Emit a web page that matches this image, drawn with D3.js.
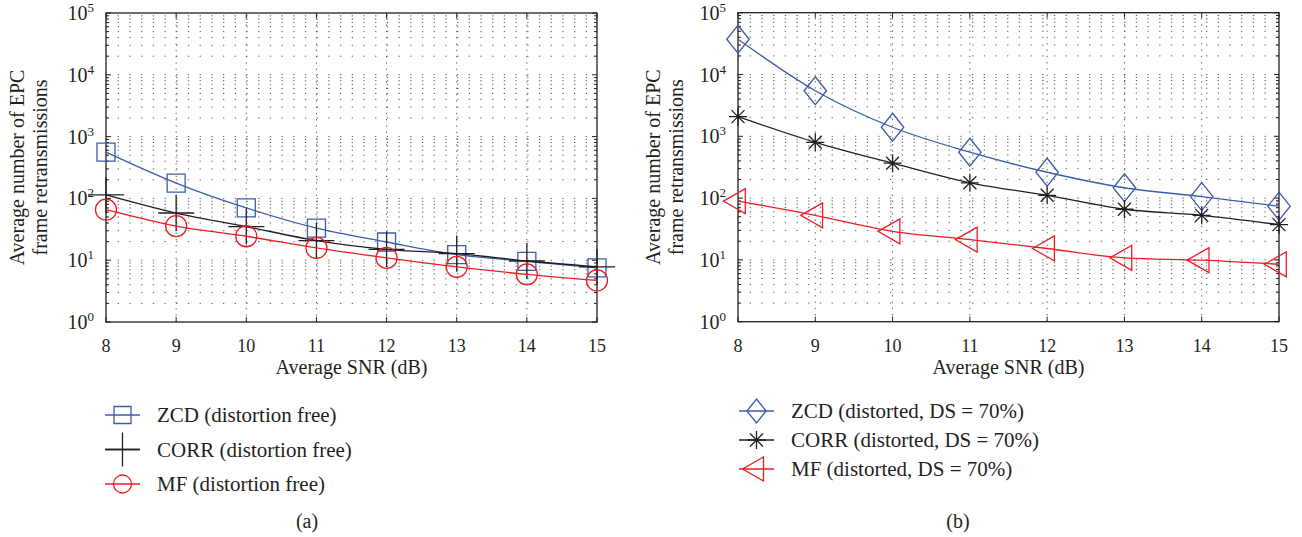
<!DOCTYPE html>
<html><head><meta charset="utf-8">
<script src="https://cdn.jsdelivr.net/npm/d3@7"></script>
<style>
html,body{margin:0;padding:0;background:#fff;}
text{font-family:"Liberation Serif","Times New Roman","DejaVu Serif",serif;fill:#231f20;}
</style></head>
<body><svg id="chart" width="1302" height="537"></svg>
<script>
// ---- data ----
const snr = [8, 9, 10, 11, 12, 13, 14, 15];
const zcdFree  = [560, 177, 70, 33, 19.7, 12.3, 9.6, 7.5];
const corrFree = [114, 58, 35, 20.8, 15, 12.8, 9.7, 7.8];
const mfFree   = [65.7, 35.7, 24.4, 15.8, 10.9, 7.8, 5.9, 4.7];
const zcdDist  = [37200, 5460, 1400, 552, 262, 147, 106, 74];
const corrDist = [2080, 800, 367, 177, 111, 66, 52.6, 37.2];
const mfDist   = [89.5, 52.6, 29, 21.3, 15.3, 10.8, 9.9, 8.5];
const yTickExps = [0, 1, 2, 3, 4, 5];
const xTicks = [8, 9, 10, 11, 12, 13, 14, 15];
const legendA = ["ZCD (distortion free)", "CORR (distortion free)", "MF (distortion free)"];
const legendB = ["ZCD (distorted, DS = 70%)", "CORR (distorted, DS = 70%)", "MF (distorted, DS = 70%)"];
const yTitle = ["Average number of EPC", "frame retransmissions"];
const xTitle = "Average SNR (dB)";

const BLUE = "#3c5ca8", RED = "#ed1c24", BLACK = "#231f20";
const svg = d3.select("#chart");

function markerPath(type, s) {
  const p = d3.path();
  if (type === "square") { p.rect(-s, -s, 2*s, 2*s); }
  else if (type === "plus") { p.moveTo(-s,0); p.lineTo(s,0); p.moveTo(0,-s); p.lineTo(0,s); }
  else if (type === "circle") { p.moveTo(s,0); p.arc(0,0,s,0,2*Math.PI); p.closePath(); }
  else if (type === "diamond") { const w = s*0.8; p.moveTo(0,-s); p.lineTo(w,0); p.lineTo(0,s); p.lineTo(-w,0); p.closePath(); }
  else if (type === "star") { const d = s*0.72; p.moveTo(-s,0); p.lineTo(s,0); p.moveTo(0,-s); p.lineTo(0,s);
      p.moveTo(-d,-d); p.lineTo(d,d); p.moveTo(-d,d); p.lineTo(d,-d); }
  else if (type === "tri") { const w = s*1.75; p.moveTo(-w*2/3,0); p.lineTo(w/3,-s); p.lineTo(w/3,s); p.closePath(); }
  return p.toString();
}

function panel(cfg) {
  const x = d3.scaleLinear().domain([8, 15]).range([cfg.x0, cfg.x1]);
  const y = d3.scaleLog().domain([1, 1e5]).range([cfg.y1, cfg.y0]);
  const g = svg.append("g");

  const minors = [];
  yTickExps.slice(0, -1).forEach(e => { for (let k = 2; k <= 9; k++) minors.push(k * Math.pow(10, e)); });
  const majors = yTickExps.map(e => Math.pow(10, e));

  // grid
  const grid = g.append("g").attr("stroke", "#58595b").attr("stroke-width", 1).attr("stroke-dasharray", "1.3,10.4");
  grid.selectAll(".hg").data(minors.concat(majors.slice(1, -1))).join("line")
    .attr("x1", cfg.x0).attr("x2", cfg.x1).attr("y1", d => y(d)).attr("y2", d => y(d));
  grid.selectAll(".vg").data(xTicks.slice(1, -1)).join("line")
    .attr("x1", d => x(d)).attr("x2", d => x(d)).attr("y1", cfg.y1).attr("y2", cfg.y0)
    .attr("stroke-dasharray", "1.3,5");

  // frame
  g.append("rect").attr("x", cfg.x0).attr("y", cfg.y0).attr("width", cfg.x1 - cfg.x0).attr("height", cfg.y1 - cfg.y0)
    .attr("fill", "none").attr("stroke", BLACK).attr("stroke-width", 1.3);

  // ticks
  const tk = g.append("g").attr("stroke", BLACK).attr("stroke-width", 1);
  xTicks.forEach(v => {
    tk.append("line").attr("x1", x(v)).attr("x2", x(v)).attr("y1", cfg.y1).attr("y2", cfg.y1 - 5);
    tk.append("line").attr("x1", x(v)).attr("x2", x(v)).attr("y1", cfg.y0).attr("y2", cfg.y0 + 5);
  });
  majors.forEach(v => {
    tk.append("line").attr("x1", cfg.x0).attr("x2", cfg.x0 + 5).attr("y1", y(v)).attr("y2", y(v));
    tk.append("line").attr("x1", cfg.x1).attr("x2", cfg.x1 - 5).attr("y1", y(v)).attr("y2", y(v));
  });
  minors.forEach(v => {
    tk.append("line").attr("x1", cfg.x0).attr("x2", cfg.x0 + 3).attr("y1", y(v)).attr("y2", y(v));
    tk.append("line").attr("x1", cfg.x1).attr("x2", cfg.x1 - 3).attr("y1", y(v)).attr("y2", y(v));
  });

  // tick labels
  g.selectAll(".xl").data(xTicks).join("text")
    .attr("x", d => x(d)).attr("y", cfg.y1 + 30).attr("text-anchor", "middle")
    .attr("font-size", 18).text(d => d);
  yTickExps.forEach(e => {
    const t = g.append("text").attr("x", cfg.x0 - 12).attr("y", y(Math.pow(10, e)) + 7)
      .attr("text-anchor", "end").attr("font-size", 20);
    t.append("tspan").text("10");
    t.append("tspan").attr("dy", -8).attr("font-size", 13).text(e);
  });

  // axis titles
  g.append("text").attr("x", (cfg.x0 + cfg.x1) / 2).attr("y", cfg.y1 + 52).attr("text-anchor", "middle")
    .attr("font-size", 20).text(xTitle);
  yTitle.forEach((s, i) => {
    g.append("text").attr("transform", `translate(${cfg.ty + i * 23},${(cfg.y0 + cfg.y1) / 2}) rotate(-90)`)
      .attr("text-anchor", "middle").attr("font-size", 20).text(s);
  });

  // series
  const line = d3.line().x((d, i) => x(snr[i])).y(d => y(d)).curve(d3.curveMonotoneX);
  cfg.series.forEach(s => {
    g.append("path").attr("d", line(s.values)).attr("fill", "none").attr("stroke", s.color).attr("stroke-width", 1.3);
    g.selectAll(null).data(s.values).join("path")
      .attr("transform", (d, i) => `translate(${x(snr[i])},${y(d)})`)
      .attr("d", markerPath(s.marker, s.size)).attr("fill", "none").attr("stroke", s.color).attr("stroke-width", 1.3);
  });

  // legend
  const lg = g.append("g");
  cfg.series.forEach((s, i) => {
    const ly = cfg.ly + i * cfg.lstep;
    lg.append("line").attr("x1", cfg.lx).attr("x2", cfg.lx + 35).attr("y1", ly).attr("y2", ly)
      .attr("stroke", s.color).attr("stroke-width", 1.3);
    lg.append("path").attr("transform", `translate(${cfg.lx + 17.5},${ly})`).attr("d", markerPath(s.marker, s.lsize))
      .attr("fill", "none").attr("stroke", s.color).attr("stroke-width", 1.3);
    lg.append("text").attr("x", cfg.lx + 52).attr("y", ly + 7).attr("font-size", 21).text(cfg.labels[i]);
  });
  g.append("text").attr("x", cfg.capx).attr("y", 528).attr("text-anchor", "middle").attr("font-size", 20).text(cfg.cap);
}

panel({
  x0: 106, x1: 597, y0: 13, y1: 322, ty: 24, lx: 105, ly: 415, lstep: 34.5, capx: 307, cap: "(a)",
  labels: legendA,
  series: [
    { values: zcdFree, color: BLUE, marker: "square", size: 9, lsize: 8.5 },
    { values: corrFree, color: BLACK, marker: "plus", size: 18, lsize: 17 },
    { values: mfFree, color: RED, marker: "circle", size: 10.5, lsize: 9 }
  ]
});
panel({
  x0: 738, x1: 1279, y0: 12.7, y1: 321.7, ty: 660, lx: 739, ly: 411, lstep: 29, capx: 958, cap: "(b)",
  labels: legendB,
  series: [
    { values: zcdDist, color: BLUE, marker: "diamond", size: 14, lsize: 12 },
    { values: corrDist, color: BLACK, marker: "star", size: 9, lsize: 9 },
    { values: mfDist, color: RED, marker: "tri", size: 12.5, lsize: 12 }
  ]
});
</script></body></html>
